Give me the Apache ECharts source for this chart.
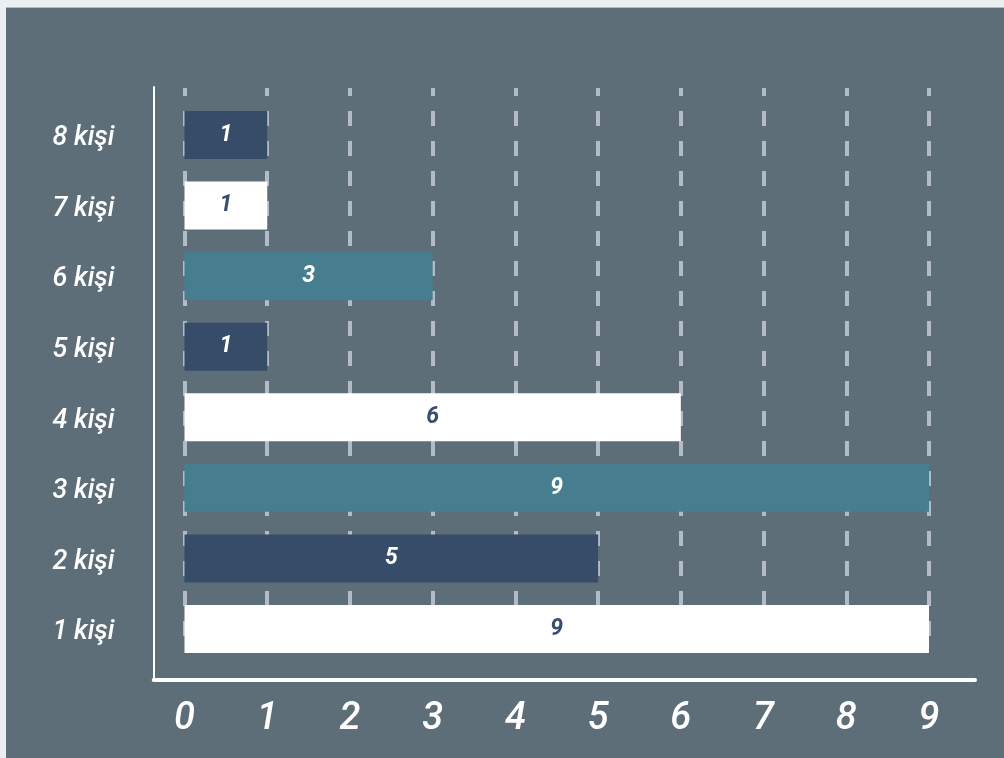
<!DOCTYPE html>
<html>
<head>
<meta charset="utf-8">
<script src="https://cdn.jsdelivr.net/npm/echarts@6/dist/echarts.min.js"></script>
<style>
  html, body { margin: 0; padding: 0; background: #eceff1; }
  #panel { position: absolute; left: 6px; top: 7px; width: 998px; height: 750px; background: #5e6e78; border-top: 1px solid #b2b9bf; }
  #chart { position: absolute; left: 0; top: 0; width: 1004px; height: 758px; }
</style>
</head>
<body>
<div id="panel"></div>
<div id="chart"></div>
<script>
// Data
const categories = ['1 kişi', '2 kişi', '3 kişi', '4 kişi', '5 kişi', '6 kişi', '7 kişi', '8 kişi'];
const values = [9, 5, 9, 6, 1, 3, 1, 1];
const xTicks = [0, 1, 2, 3, 4, 5, 6, 7, 8, 9];

// Styles
const barColors = ['#ffffff', '#374c69', '#467e8f'];
const labelColors = ['#3a4d6e', '#ffffff', '#ffffff'];

const chart = echarts.init(document.getElementById('chart'), null, { renderer: 'canvas' });

const seriesData = values.map((v, i) => ({
  value: v,
  itemStyle: { color: barColors[i % 3] },
  label: { color: labelColors[i % 3] }
}));

const option = {
  backgroundColor: 'transparent',
  animation: false,
  grid: [
    { left: 184.5, top: 99.7, width: 744.5, height: 564.6, containLabel: false },
    { left: 153.7, top: 87, width: 821.3, height: 592.5, containLabel: false },
    { left: 184.5, top: 88, width: 744.5, height: 562, containLabel: false }
  ],
  xAxis: [
    {
      type: 'value', gridIndex: 0, min: xTicks[0], max: xTicks[xTicks.length - 1], interval: 1,
      axisLine: { show: false }, axisTick: { show: false }, splitLine: { show: false },
      axisLabel: {
        show: true, color: '#ffffff', fontFamily: 'Roboto', fontStyle: 'italic', fontWeight: 500,
        fontSize: 38, margin: 55, verticalAlign: 'middle'
      }
    },
    {
      type: 'value', gridIndex: 1, min: 0, max: 1,
      axisLine: { show: true, onZero: false, lineStyle: { color: '#ffffff', width: 4 } },
      axisTick: { show: false }, axisLabel: { show: false }, splitLine: { show: false }
    },
    {
      type: 'value', gridIndex: 2, min: xTicks[0], max: xTicks[xTicks.length - 1], interval: 1,
      axisLine: { show: false }, axisTick: { show: false }, axisLabel: { show: false },
      splitLine: { show: true, lineStyle: { color: '#b3bbc8', width: 4, type: [15, 15], dashOffset: 7 } }
    }
  ],
  yAxis: [
    {
      type: 'category', gridIndex: 0, data: categories,
      axisLine: { show: false }, axisTick: { show: false }, splitLine: { show: false },
      axisLabel: {
        margin: 70,
        formatter: '{a|{value}}',
        rich: {
          a: {
            color: '#ffffff', fontFamily: 'Roboto', fontStyle: 'italic', fontWeight: 500,
            fontSize: 27, padding: [7, 0, 0, 0]
          }
        }
      }
    },
    {
      type: 'value', gridIndex: 1, min: 0, max: 1,
      axisLine: { show: true, onZero: false, lineStyle: { color: '#ffffff', width: 2 } },
      axisTick: { show: false }, axisLabel: { show: false }, splitLine: { show: false }
    },
    {
      type: 'value', gridIndex: 2, min: 0, max: 1,
      axisLine: { show: false }, axisTick: { show: false }, axisLabel: { show: false }, splitLine: { show: false }
    }
  ],
  series: [
    {
      type: 'bar', xAxisIndex: 0, yAxisIndex: 0, barWidth: 48, z: 3,
      data: seriesData,
      label: {
        show: true, position: 'inside', fontFamily: 'Roboto', fontStyle: 'italic',
        fontWeight: 'bold', fontSize: 23
      }
    }
  ]
};

chart.setOption(option);
</script>
</body>
</html>
